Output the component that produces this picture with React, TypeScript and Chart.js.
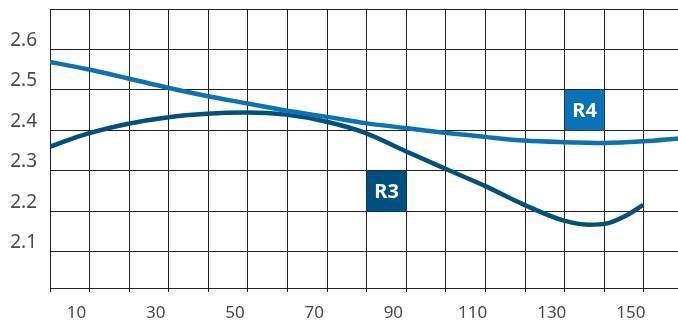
import React, { useEffect, useRef } from "react";
import { Chart, registerables } from "chart.js";

Chart.register(...registerables);

const xR4 = [0, 9.5, 19.5, 29.5, 39.6, 49.6, 59.6, 69.6, 79.6, 89.7, 99.7, 109.8, 119.8, 129.8, 139.8, 149.8, 158.6];
const yR4 = [2.569, 2.551, 2.529, 2.506, 2.485, 2.467, 2.449, 2.434, 2.418, 2.406, 2.394, 2.384, 2.375, 2.371, 2.369, 2.373, 2.38];

const xR3 = [0, 9.5, 19.5, 29.5, 39.6, 49.6, 59.6, 69.6, 79.6, 89.7, 99.7, 109.8, 119.8, 129.8, 136, 141, 146, 149.8];
const yR3 = [2.36, 2.392, 2.416, 2.432, 2.441, 2.444, 2.439, 2.422, 2.394, 2.349, 2.306, 2.263, 2.216, 2.177, 2.167, 2.171, 2.192, 2.216];

const yTicks = [2.1, 2.2, 2.3, 2.4, 2.5, 2.6, 2.7];
const xLabels = [10, 30, 50, 70, 90, 110, 130, 150];

const seriesNames = ["R3", "R4"];
const seriesColors = ["#00517f", "#0a72b9"];
// label boxes: [xFrom, xTo, yFrom, yTo]
const labelBoxes = [
  [80, 90, 2.2, 2.3],
  [130, 140, 2.4, 2.5],
];

const boxPlugin = {
  id: "labelBoxes",
  afterDatasetsDraw(chart: any) {
    const { ctx, scales } = chart;
    const xs = scales.x;
    const ys = scales.y;
    ctx.save();
    labelBoxes.forEach((b, i) => {
      const x1 = xs.getPixelForValue(b[0]);
      const x2 = xs.getPixelForValue(b[1]);
      const y1 = ys.getPixelForValue(b[3]);
      const y2 = ys.getPixelForValue(b[2]);
      ctx.fillStyle = seriesColors[i];
      ctx.fillRect(x1, y1, x2 - x1, y2 - y1);
      ctx.fillStyle = "#ffffff";
      ctx.font = "bold 20px 'Noto Sans', sans-serif";
      ctx.textAlign = "center";
      ctx.textBaseline = "middle";
      ctx.fillText(seriesNames[i], (x1 + x2) / 2, (y1 + y2) / 2 + 1);
    });
    ctx.restore();
  },
};

export default function App() {
  const ref = useRef<HTMLCanvasElement>(null);
  useEffect(() => {
    if (!ref.current) return;
    const chart = new Chart(ref.current, {
      type: "line",
      data: {
        datasets: [
          {
            label: "R4",
            data: xR4.map((x, i) => ({ x, y: yR4[i] })),
            borderColor: seriesColors[1],
            borderWidth: 4.5,
            pointRadius: 0,
            cubicInterpolationMode: "monotone",
            fill: false,
          },
          {
            label: "R3",
            data: xR3.map((x, i) => ({ x, y: yR3[i] })),
            borderColor: seriesColors[0],
            borderWidth: 4.5,
            pointRadius: 0,
            cubicInterpolationMode: "monotone",
            fill: false,
          },
        ],
      },
      options: {
        animation: false,
        responsive: true,
        maintainAspectRatio: false,
        layout: { padding: { top: 9, left: 0, right: 0, bottom: 0 } },
        plugins: { legend: { display: false }, tooltip: { enabled: false } },
        scales: {
          x: {
            type: "linear",
            min: 0,
            max: 158.6,
            afterFit: (s: any) => {
              s.height = 37;
              s.paddingLeft = 0;
              s.paddingRight = 0;
            },
            afterBuildTicks: (s: any) => {
              const t = [];
              for (let v = 0; v <= 150; v += 10) t.push({ value: v });
              s.ticks = t;
            },
            grid: { color: "#222", lineWidth: 1, tickLength: 4, drawTicks: true },
            border: { color: "#222", width: 1 },
            ticks: {
              autoSkip: false,
              maxRotation: 0,
              padding: 11,
              labelOffset: -13,
              color: "#4a4a4a",
              font: { family: "'Noto Sans', sans-serif", size: 17 },
              callback: (v: any) => (xLabels.includes(Number(v)) ? String(v) : ""),
            },
          },
          y: {
            type: "linear",
            min: 2.0106,
            max: 2.7,
            afterFit: (s: any) => {
              s.width = 50;
              s.paddingTop = 0;
              s.paddingBottom = 0;
            },
            afterBuildTicks: (s: any) => {
              s.ticks = yTicks.map((v) => ({ value: v }));
            },
            grid: { color: "#222", lineWidth: 1, drawTicks: false },
            border: { color: "#222", width: 1 },
            ticks: {
              padding: 13,
              labelOffset: -9,
              color: "#4a4a4a",
              font: { family: "'Noto Sans', sans-serif", size: 19 },
              callback: (v: any) => (Number(v) >= 2.65 ? "" : Number(v).toFixed(1)),
            },
          },
        },
      },
      plugins: [boxPlugin],
    } as any);
    return () => chart.destroy();
  }, []);
  return (
    <div style={{ position: "fixed", left: 0, top: 0, width: 678, height: 325 }}>
      <canvas ref={ref} />
    </div>
  );
}
